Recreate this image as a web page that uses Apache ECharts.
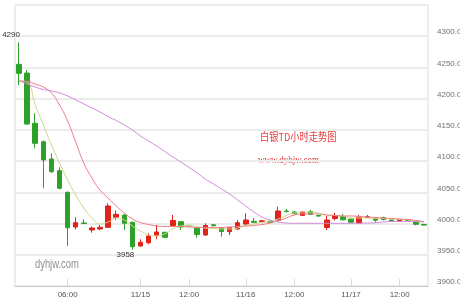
<!DOCTYPE html>
<html><head><meta charset="utf-8">
<script src="https://cdn.jsdelivr.net/npm/echarts@6/dist/echarts.min.js"></script>
<style>html,body{margin:0;padding:0;background:#fff}#c{width:460px;height:300px}</style>
</head><body><div id="c"></div>
<script>
const categories = ['11/13 18:00','11/13 20:00','11/13 22:00','11/14 00:00','11/14 02:00','11/14 04:00','11/14 06:00','11/14 08:00','11/14 10:00','11/14 12:00','11/14 14:00','11/14 16:00','11/14 18:00','11/14 20:00','11/14 22:00','11/15 00:00','11/15 02:00','11/15 04:00','11/15 06:00','11/15 08:00','11/15 10:00','11/15 12:00','11/15 14:00','11/15 16:00','11/15 18:00','11/15 20:00','11/15 22:00','11/15 23:00','11/16 00:00','11/16 02:00','11/16 04:00','11/16 06:00','11/16 08:00','11/16 10:00','11/16 12:00','11/16 14:00','11/16 16:00','11/16 18:00','11/16 20:00','11/16 22:00','11/16 23:00','11/17 00:00','11/17 02:00','11/17 04:00','11/17 06:00','11/17 08:00','11/17 10:00','11/17 12:00','11/17 14:00','11/17 16:00','11/17 18:00'];
const tickLabels = ['','','','','','','06:00','','','','','','','','','11/15','','','','','','12:00','','','','','','','11/16','','','','','','12:00','','','','','','','11/17','','','','','','12:00','','',''];
const opens  = [4255,4241,4160.6,4131.1,4103.4,4084.6,4050.1,3994.5,4001,3989.7,3991.3,3994,4010,4013.7,4002,3964.1,3969.3,3981.2,3986,3996.9,4003,3997,3992.4,3981.7,3998,3992.9,3987,3991.3,3999.3,4003.5,4003,4003,4005.7,4020,4018.5,4012.9,4019.3,4013,3993.7,4008.1,4011.6,4007.3,4000.9,4010,4009.4,4009.7,4005.7,4004,4006,4003.6,3998.6];
const closes = [4240.6,4159.4,4128.5,4101.8,4083,4056.5,3993.4,4001.4,4000,3992.9,3994,4028.1,4014.8,4000.4,3962.9,3970,3980.1,3986.5,3978,4004.9,3994.5,3996,3982.5,3996.9,3996.5,3987.3,3993.4,4001.4,4005.7,4002,4004.5,4002,4020.1,4019,4015.6,4018.5,4014.8,4012,4005.7,4012.9,4006,4002,4010.5,4011,4005.4,4006.3,4004.1,4005.7,4005,3998.8,3997.5];
const lows   = [4222,4158,4120.5,4056.5,4081,4055,3964.1,3990.8,3999.5,3985.4,3989.7,3993,4005.7,3989.7,3958,3963,3966.8,3974.8,3977,3994.5,3989.7,3995,3977.4,3980,3995.5,3979,3981.7,3990,3998,4001,4002,4001.5,4004.5,4018,4015,4012,4014,4011,3989.7,4004.9,4005,4001,4000,4009,4002,4005,4003,4003,4004,3997,3997];
const highs  = [4290,4246,4176.6,4133,4112.5,4090.1,4051,4010,4006.8,3995.3,3997.7,4032.4,4020.6,4015,4003,3974.8,3984.4,3997.7,3987,4013.7,4004,3998,3995,4000.4,3999,3994,3994.5,4005.7,4016.4,4008.9,4006,4005.7,4027,4023.3,4020,4019.5,4022.2,4014,4012.1,4016.9,4015.3,4008,4013.7,4013.7,4010,4011,4006.5,4006.5,4007,4004.5,3999];
const ma5  = [4228.3,4226.7,4189.9,4157.8,4125.8,4097,4069.8,4045.7,4024.9,4008.9,3999.3,4002.5,4008.9,4005.7,3996.1,3988.1,3981.7,3980.1,3983.3,3991.3,3996.1,3996.9,3995.3,3992.9,3992.1,3991.3,3991.3,3992.9,3996.9,3999.3,4001.7,4004.1,4007.3,4012.9,4016.9,4018.5,4018.5,4016.9,4013.7,4012.9,4012.1,4008.9,4008.9,4008.9,4008.1,4008.1,4007.3,4006.5,4005.7,4003.3,4001.7];
const ma10 = [4228.3,4227.5,4223.5,4218.7,4209.1,4189.9,4164.2,4130.6,4097,4073,4053.7,4040.9,4028.1,4016.9,4007.3,4001.7,3998.5,3996.1,3995.3,3995.3,3995.3,3994.5,3993.7,3993.7,3993.7,3993.7,3994.5,3995.3,3996.1,3996.9,3998.5,4000.9,4004.1,4008.9,4013.7,4015.3,4015.6,4015.3,4013.7,4012.9,4012.1,4012.1,4011.3,4010.5,4009.7,4008.9,4008.1,4007.3,4006.5,4004.9,4003.3];
const ma20 = [4228.3,4223.5,4218.7,4214.7,4212.3,4209.1,4204.3,4197.9,4191.5,4185.1,4178.6,4171.4,4165,4157.8,4149.8,4140.2,4132.2,4124.2,4115.4,4106.6,4098.6,4089.8,4081,4071.4,4063.4,4055.3,4047.3,4037.7,4028.1,4018.5,4010.5,4005.7,4002.5,4000.9,4000.4,4000.4,4000.4,4000.4,4000.4,4000.4,4000.4,4000.4,4000.4,4000.9,4001.2,4002.5,4003.3,4003.3,4003.3,4003.3,4003.3];
const yTicks = {min: 3900, max: 4350, step: 50};
const titleText = '白银TD小时走势图';
const siteText = 'www.dyhjw.com';
const watermarkText = 'dyhjw.com';

const candleData = opens.map((o, i) => [o, closes[i], lows[i], highs[i]]);
const narrow = "'Liberation Sans Narrow', 'Liberation Sans', sans-serif";
const showTick = (i) => tickLabels[i] !== '';

const chart = echarts.init(document.getElementById('c'), null, {renderer: 'canvas'});
chart.setOption({
  animation: false,
  backgroundColor: '#fff',
  grid: {left: 15, right: 32, top: 5, bottom: 14, outerBoundsMode: 'none', containLabel: false, show: true, borderColor: '#dcdcdc', borderWidth: 1},
  xAxis: {
    type: 'category', data: categories, boundaryGap: true,
    axisLine: {lineStyle: {color: '#c8c8c8'}},
    axisTick: {show: true, inside: true, length: 7, alignWithLabel: true, interval: showTick, lineStyle: {color: '#d3dde8'}},
    axisLabel: {interval: showTick, formatter: (v, i) => tickLabels[i], fontSize: 8, color: '#555', margin: 5, fontFamily: narrow},
    splitLine: {show: false}
  },
  yAxis: {
    type: 'value', position: 'right', min: yTicks.min, max: yTicks.max, interval: yTicks.step, scale: true,
    axisLine: {show: false}, axisTick: {show: false},
    axisLabel: {formatter: (v) => v.toFixed(2), fontSize: 8, color: '#707070', margin: 9, showMaxLabel: false, verticalAlign: 'bottom', fontFamily: narrow},
    splitLine: {lineStyle: {color: '#ececec', width: 2}}
  },
  graphic: [
    {type: 'text', x: 260, y: 131, scaleX: 0.84, style: {text: titleText, fill: '#e6393c', font: '11px "Noto Sans CJK SC"', verticalAlign: 'top'}},
    {type: 'text', x: 258, y: 155, scaleX: 0.82, style: {text: siteText, fill: '#e6393c', font: '11px "Liberation Serif"', verticalAlign: 'top'}},
    {type: 'text', x: 35, y: 259, scaleX: 0.78, style: {text: watermarkText, fill: '#909090', font: '12px "Liberation Sans"', verticalAlign: 'top'}}
  ],
  series: [
    {type: 'candlestick', data: candleData, barWidth: 5,
     itemStyle: {color: '#e2231a', color0: '#2ea12a', borderColor: '#e2231a', borderColor0: '#2ea12a', borderWidth: 1},
     markPoint: {symbol: 'circle', symbolSize: 0.1, itemStyle: {color: 'rgba(0,0,0,0)'},
       data: [
         {type: 'max', valueDim: 'highest', label: {show: true, position: 'inside', offset: [-8, -8], color: '#333', fontSize: 8, fontFamily: narrow}},
         {type: 'min', valueDim: 'lowest', label: {show: true, position: 'inside', offset: [-7, 5], color: '#333', fontSize: 8, fontFamily: narrow}}
       ]}
    },
    {type: 'line', data: ma5, smooth: true, symbol: 'none', lineStyle: {color: '#cfd98a', width: 1}, z: 3},
    {type: 'line', data: ma10, smooth: true, symbol: 'none', lineStyle: {color: '#f07a85', width: 1}, z: 3},
    {type: 'line', data: ma20, smooth: true, symbol: 'none', lineStyle: {color: '#d08ad8', width: 1}, z: 3}
  ]
});
</script></body></html>
